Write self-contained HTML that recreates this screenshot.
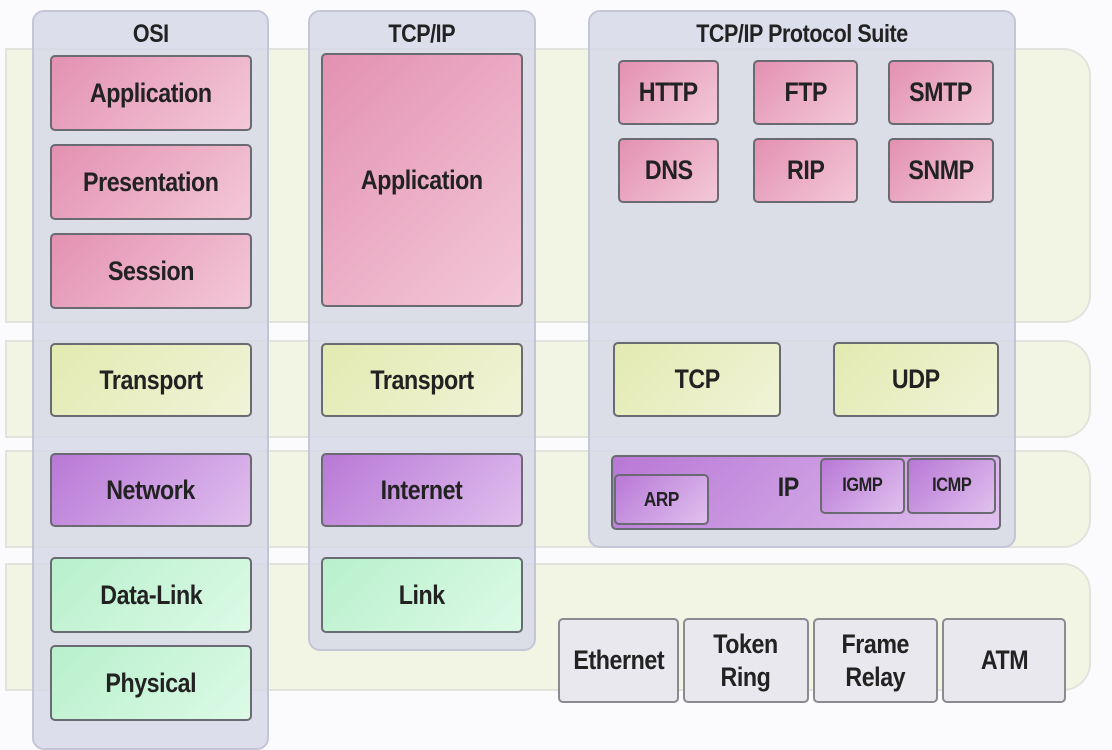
<!DOCTYPE html>
<html><head><meta charset="utf-8"><style>
body{margin:0;width:1112px;height:727px;background:#fbfbfd;position:relative;overflow:hidden;font-family:"Liberation Sans",sans-serif;}
div{position:absolute;box-sizing:border-box;}
span{display:inline-block;transform:scaleX(0.86);font-weight:bold;}
.band{background:#f3f5e4;border:2px solid #e2e3dc;border-radius:0 28px 28px 0;left:5px;width:1086px;}
.col{background:rgba(214,216,232,0.85);border:2px solid #c4c6d6;border-radius:12px;}
.h{font-size:25px;color:#222;text-align:center;width:100%;top:8px;letter-spacing:-0.5px}
.b{border:2px solid #6a6a72;border-radius:5px;display:flex;align-items:center;justify-content:center;font-size:27px;color:#222;letter-spacing:-0.5px;text-align:center;line-height:1.2;}
.p{background:linear-gradient(135deg,#e391b1,#f3c8d8);}
.y{background:linear-gradient(135deg,#e2eab0,#f1f3d8);}
.v{background:linear-gradient(135deg,#b878d6,#e0c0ee);}
.g{background:linear-gradient(135deg,#b8f0cc,#dcfae6);}
.gr{background:#e9e8ee;border-color:#8a8a90;}
</style></head><body>
<div class="band" style="top:48px;height:275px"></div>
<div class="band" style="top:340px;height:98px"></div>
<div class="band" style="top:450px;height:98px"></div>
<div class="band" style="top:563px;height:128px"></div>

<div class="col" style="left:32px;top:10px;width:237px;height:740px"><div class="h"><span>OSI</span></div></div>
<div class="col" style="left:308px;top:10px;width:228px;height:641px"><div class="h"><span>TCP/IP</span></div></div>
<div class="col" style="left:588px;top:10px;width:428px;height:538px"><div class="h"><span>TCP/IP Protocol Suite</span></div></div>

<div class="b p" style="left:50px;top:55px;width:202px;height:76px"><span>Application</span></div>
<div class="b p" style="left:50px;top:144px;width:202px;height:76px"><span>Presentation</span></div>
<div class="b p" style="left:50px;top:233px;width:202px;height:76px"><span>Session</span></div>
<div class="b y" style="left:50px;top:343px;width:202px;height:74px"><span>Transport</span></div>
<div class="b v" style="left:50px;top:453px;width:202px;height:74px"><span>Network</span></div>
<div class="b g" style="left:50px;top:557px;width:202px;height:76px"><span>Data-Link</span></div>
<div class="b g" style="left:50px;top:645px;width:202px;height:76px"><span>Physical</span></div>

<div class="b p" style="left:321px;top:53px;width:202px;height:254px"><span>Application</span></div>
<div class="b y" style="left:321px;top:343px;width:202px;height:74px"><span>Transport</span></div>
<div class="b v" style="left:321px;top:453px;width:202px;height:74px"><span>Internet</span></div>
<div class="b g" style="left:321px;top:557px;width:202px;height:76px"><span>Link</span></div>

<div class="b p" style="left:618px;top:60px;width:101px;height:65px"><span>HTTP</span></div>
<div class="b p" style="left:753px;top:60px;width:105px;height:65px"><span>FTP</span></div>
<div class="b p" style="left:888px;top:60px;width:106px;height:65px"><span>SMTP</span></div>
<div class="b p" style="left:618px;top:138px;width:101px;height:65px"><span>DNS</span></div>
<div class="b p" style="left:753px;top:138px;width:105px;height:65px"><span>RIP</span></div>
<div class="b p" style="left:888px;top:138px;width:106px;height:65px"><span>SNMP</span></div>

<div class="b y" style="left:613px;top:342px;width:168px;height:75px"><span>TCP</span></div>
<div class="b y" style="left:833px;top:342px;width:166px;height:75px"><span>UDP</span></div>

<div class="b v" style="left:611px;top:455px;width:390px;height:75px;justify-content:flex-start;padding-left:163px;align-items:flex-start;padding-top:14px"><span>IP</span></div>
<div class="b v" style="left:614px;top:474px;width:95px;height:51px;font-size:20px"><span>ARP</span></div>
<div class="b v" style="left:820px;top:458px;width:85px;height:56px;font-size:19px"><span>IGMP</span></div>
<div class="b v" style="left:907px;top:458px;width:89px;height:56px;font-size:19px"><span>ICMP</span></div>

<div class="b gr" style="left:558px;top:618px;width:121px;height:85px"><span>Ethernet</span></div>
<div class="b gr" style="left:683px;top:618px;width:126px;height:85px"><span>Token<br>Ring</span></div>
<div class="b gr" style="left:813px;top:618px;width:125px;height:85px"><span>Frame<br>Relay</span></div>
<div class="b gr" style="left:942px;top:618px;width:124px;height:85px"><span>ATM</span></div>
</body></html>
